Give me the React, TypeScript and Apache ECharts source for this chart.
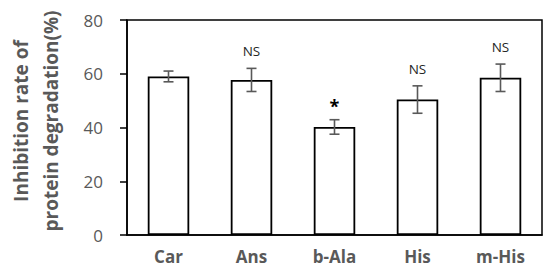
import React, { useEffect, useRef } from "react";
import * as echarts from "echarts";

const categories = ["Car", "Ans", "b-Ala", "His", "m-His"];
const values = [59.0, 57.7, 40.2, 50.4, 58.5];
const errors = [2.0, 4.3, 2.7, 5.1, 5.1];
const marks = ["", "NS", "*", "NS", "NS"];
const yTicks = [0, 20, 40, 60, 80];
const yTitle = "Inhibition rate of\nprotein degradation(%)";

export default function App() {
  const ref = useRef<HTMLDivElement>(null);
  useEffect(() => {
    if (!ref.current) return;
    const chart = echarts.init(ref.current, null, { renderer: "svg" });
    const font = "'Open Sans', 'DejaVu Sans', sans-serif";
    const gray = "#595959";
    chart.setOption({
      animation: false,
      grid: {
        left: 127,
        right: 8,
        top: 20,
        bottom: 43,
        containLabel: false,
        outerBoundsMode: "none",
        show: true,
        borderColor: "#000",
        borderWidth: 1.5,
        backgroundColor: "transparent",
      },
      graphic: [
        {
          type: "text",
          x: 36,
          y: 121,
          rotation: Math.PI / 2,
          style: {
            text: yTitle,
            textAlign: "center",
            textVerticalAlign: "middle",
            fill: gray,
            fontFamily: font,
            fontWeight: "bold",
            fontSize: 19,
            lineHeight: 30,
          },
        },
      ],
      xAxis: {
        type: "category",
        data: categories,
        axisLine: { lineStyle: { color: "#000", width: 1.5 } },
        axisTick: { show: false },
        axisLabel: {
          color: gray,
          fontFamily: font,
          fontWeight: "bold",
          fontSize: 17,
          margin: 13,
        },
      },
      yAxis: {
        type: "value",
        min: yTicks[0],
        max: yTicks[yTicks.length - 1],
        interval: 20,
        axisLine: { show: true, lineStyle: { color: "#000", width: 1.5 } },
        axisTick: { show: true, inside: false, length: 7, lineStyle: { color: "#000", width: 1.5 } },
        splitLine: { show: false },
        axisLabel: {
          color: gray,
          fontFamily: font,
          fontSize: 17,
          margin: 24,
        },
      },
      series: [
        {
          type: "bar",
          data: values,
          barWidth: "50%",
          itemStyle: { color: "#fff", borderColor: "#000", borderWidth: 1.8 },
          silent: true,
        },
        {
          type: "custom",
          data: values.map((v, i) => [i, v, errors[i]]),
          renderItem: (params: any, api: any) => {
            const idx = api.value(0);
            const v = api.value(1);
            const e = api.value(2);
            const top = api.coord([idx, v + e]);
            const bot = api.coord([idx, v - e]);
            const x = top[0];
            const cap = 5;
            const style = { stroke: gray, lineWidth: 1.6 };
            const children: any[] = [
              { type: "line", shape: { x1: x, y1: top[1], x2: x, y2: bot[1] }, style },
              { type: "line", shape: { x1: x - cap, y1: top[1], x2: x + cap, y2: top[1] }, style },
              { type: "line", shape: { x1: x - cap, y1: bot[1], x2: x + cap, y2: bot[1] }, style },
            ];
            const m = marks[params.dataIndex];
            if (m) {
              const isStar = m === "*";
              children.push({
                type: "text",
                style: {
                  text: m,
                  x,
                  y: top[1] - (isStar ? 14 : 17),
                  textAlign: "center",
                  textVerticalAlign: "middle",
                  fill: isStar ? "#000" : "#262626",
                  fontFamily: font,
                  fontSize: isStar ? 18 : 13.5,
                  fontWeight: isStar ? "bold" : "normal",
                },
              });
            }
            return { type: "group", children };
          },
          z: 10,
        },
      ],
    });
    return () => chart.dispose();
  }, []);
  return <div ref={ref} style={{ width: 550, height: 278, position: "absolute", left: 0, top: 0 }} />;
}
